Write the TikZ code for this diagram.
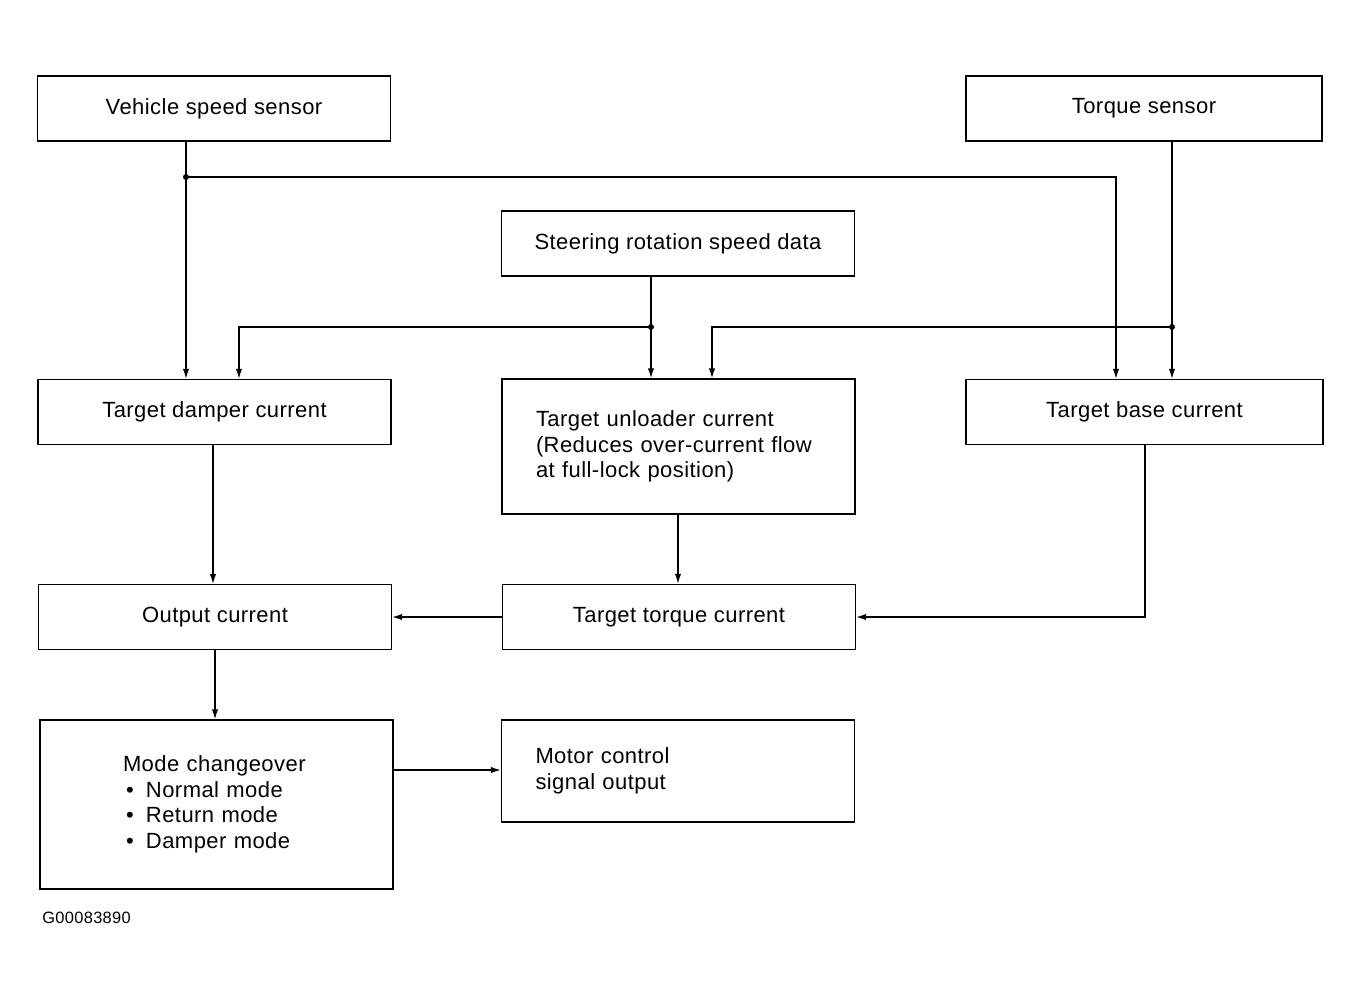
\documentclass[tikz,border=0pt]{standalone}
\usepackage{fontspec}
\setmainfont[LetterSpace=2]{Liberation Sans}
\usepackage{tikz}
\usetikzlibrary{arrows.meta}
\tikzset{
  block/.style={draw, line width=0.7pt, align=center, minimum width=176.5pt, minimum height=32.5pt, inner sep=0pt},
  leftblock/.style={block, align=left, inner xsep=17pt, text width=142.5pt},
  bus/.style={-{Latex[length=5pt,width=3.2pt]}, line width=0.65pt},
  dot/.style={circle, fill, inner sep=0pt, minimum size=3pt}
}

\begin{document}
\begin{tikzpicture}[x=0.5pt, y=-0.5pt, font=\fontsize{11}{12.75}\selectfont]
  \useasboundingbox (0,0) rectangle (1361,1000);

  \node[block] (vss) at (214,108.5) {Vehicle speed sensor};
  \node[block, minimum width=178pt] (tqs) at (1144,108.5) {Torque sensor};
  \node[block] (steer) at (678,243.5) {Steering rotation speed data};

  \node[block] (damper) at (214.5,412) {Target damper current};
  \node[leftblock, minimum height=67.5pt] (unload) at (678.5,446.5) {Target unloader current\\(Reduces over-current flow\\at full-lock position)};
  \node[block, minimum width=178.5pt] (base) at (1144.5,412) {Target base current};

  \node[block] (out) at (215,617) {Output current};
  \node[block] (tqc) at (679,617) {Target torque current};

  \node[leftblock, minimum height=84.5pt, inner xsep=41.5pt, text width=93.5pt] (mode) at (216.5,804.5) {Mode changeover\\
    \makebox[11.5pt][l]{\hspace{1.5pt}\textbullet}Normal mode\\
    \makebox[11.5pt][l]{\hspace{1.5pt}\textbullet}Return mode\\
    \makebox[11.5pt][l]{\hspace{1.5pt}\textbullet}Damper mode};
  \node[leftblock, minimum height=51pt] (motor) at (678,771) {Motor control\\signal output};

  \node[anchor=west, inner sep=0pt, font=\fontsize{8.2}{10}\selectfont] (code) at (42,918) {G00083890};

  \node[dot] (j1) at (186,177) {};
  \node[dot] (j2) at (651,327) {};
  \node[dot] (j3) at (1172,327) {};
  \coordinate (b1) at (1116,177);
  \coordinate (b2) at (239,327);
  \coordinate (b3) at (712,327);
  \coordinate (b4) at (1145,617);

  \draw[bus] (j1 |- vss.south) -- (j1 |- damper.north);
  \draw[bus] (j1.center) -- (b1) -- (b1 |- base.north);
  \draw[bus] (j2 |- steer.south) -- (j2 |- unload.north);
  \draw[bus] (j2.center) -- (b2) -- (b2 |- damper.north);
  \draw[bus] (j3 |- tqs.south) -- (j3 |- base.north);
  \draw[bus] (j3.center) -- (b3) -- (b3 |- unload.north);

  \draw[bus] (213,445) -- (213,584);
  \draw[bus] (unload.south -| 678,0) -- (tqc.north -| 678,0);
  \draw[bus] (b4 |- base.south) -- (b4) -- (tqc.east);
  \draw[bus] (tqc.west) -- (out.east);
  \draw[bus] (out.south) -- (out.south |- mode.north);
  \draw[bus] (mode.east |- 0,770) -- (motor.west |- 0,770);
\end{tikzpicture}
\end{document}
